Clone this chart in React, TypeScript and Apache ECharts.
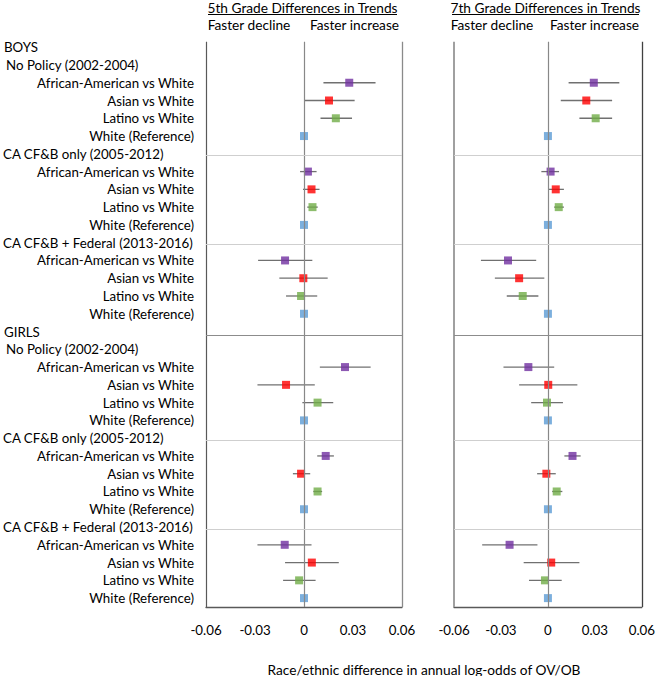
import React, { useEffect, useRef } from "react";
import * as echarts from "echarts";

const sexes = ["BOYS", "GIRLS"];
const periods = ["No Policy (2002-2004)", "CA CF&B only (2005-2012)", "CA CF&B + Federal (2013-2016)"];
const comparisons = ["African-American vs White", "Asian vs White", "Latino vs White", "White (Reference)"];
const compColors = ["#7030A0", "#FF0000", "#70AD47", "#5B9BD5"];

// order: boys (No Policy: AA, Asian, Latino, White; CA only; CA+Federal), then girls
const grade5Est = [0.0277, 0.0153, 0.0195, 0, 0.0024, 0.0046, 0.0052, 0, -0.0116, -0.0004, -0.0018, 0,
  0.0251, -0.011, 0.0083, 0, 0.0133, -0.0018, 0.0083, 0, -0.0118, 0.0048, -0.003, 0];
const grade5Lo = [0.0119, 0.0, 0.0101, null, -0.0024, -0.0006, 0.002, null, -0.0281, -0.0151, -0.011, null,
  0.0097, -0.0285, -0.001, null, 0.0081, -0.0068, 0.0057, null, -0.0285, -0.0116, -0.0128, null];
const grade5Hi = [0.0438, 0.031, 0.0294, null, 0.0077, 0.0095, 0.0084, null, 0.0051, 0.0145, 0.0081, null,
  0.0408, 0.0066, 0.0179, null, 0.0183, 0.0038, 0.0111, null, 0.0046, 0.0213, 0.0071, null];
const grade7Est = [0.0293, 0.0245, 0.0305, 0, 0.0017, 0.005, 0.0069, 0, -0.0255, -0.0184, -0.0161, 0,
  -0.0125, 0.0002, -0.0006, 0, 0.0157, -0.001, 0.0056, 0, -0.0245, 0.0021, -0.0019, 0];
const grade7Lo = [0.0132, 0.0082, 0.0201, null, -0.0042, 0.0004, 0.004, null, -0.0428, -0.0339, -0.0263, null,
  -0.0284, -0.0184, -0.0107, null, 0.0105, -0.0069, 0.0027, null, -0.042, -0.0155, -0.0121, null];
const grade7Hi = [0.0456, 0.041, 0.041, null, 0.0071, 0.0102, 0.0102, null, -0.0075, -0.0023, -0.0061, null,
  0.004, 0.0188, 0.0096, null, 0.0209, 0.005, 0.0092, null, -0.0067, 0.0201, 0.0088, null];

const xMin = -0.06;
const xMax = 0.06;
const xStep = 0.03;
const panelTitles = ["5th Grade Differences in Trends", "7th Grade Differences in Trends"];
const directionLabels = ["Faster decline", "Faster increase"];
const xAxisTitle = "Race/ethnic difference in annual log-odds of OV/OB";

type Row = { label: string; kind: "sex" | "period" | "item"; idx?: number; comp?: number; first?: boolean };
const rows: Row[] = [];
{
  let k = 0;
  sexes.forEach((s, si) => {
    rows.push({ label: s, kind: "sex", first: si === 0 });
    periods.forEach((p, pi) => {
      rows.push({ label: p, kind: "period", first: pi === 0 });
      comparisons.forEach((c, ci) => {
        rows.push({ label: c, kind: "item", idx: k++, comp: ci });
      });
    });
  });
}
const nRows = rows.length;

const FONT = "Lato";
const FS = 13.3;
const GRID_TOP = 38.3;
const GRID_H = 568.7;
const PANELS = [
  { left: 203, width: 199 },
  { left: 454, width: 191 },
];

function buildPanelSeries(pi: number, est: number[], lo: (number | null)[], hi: (number | null)[]) {
  const pts: any[] = [];
  const bars: any[] = [];
  rows.forEach((r, ri) => {
    if (r.kind !== "item") return;
    const i = r.idx as number;
    const y = ri + 0.5;
    pts.push({ value: [est[i], y], itemStyle: { color: compColors[r.comp as number] } });
    if (lo[i] != null && hi[i] != null) bars.push([lo[i], hi[i], y]);
  });
  const lineMarks: any[] = [];
  const top = 0.2;
  lineMarks.push([{ coord: [xMin, top], lineStyle: { color: pi === 0 ? "#595959" : "#a0a0a0", width: pi === 0 ? 1.2 : 2 } }, { coord: [xMin, nRows] }]);
  lineMarks.push([{ coord: [xMax, top], lineStyle: { color: pi === 0 ? "#8a8a8a" : "#404040", width: 1.3 } }, { coord: [xMax, nRows] }]);
  lineMarks.push([{ coord: [0, top], lineStyle: { color: "#888888", width: 1.2 } }, { coord: [0, nRows] }]);
  rows.forEach((r, ri) => {
    if ((r.kind === "period" || r.kind === "sex") && !r.first) {
      const dark = r.kind === "sex";
      const y = ri + 0.5 + (dark ? 0.2 : 0.1);
      lineMarks.push([
        { coord: [xMin, y], lineStyle: { color: dark ? "#8c8c8c" : "#cfcfcf", width: 1.2 } },
        { coord: [xMax, y] },
      ]);
    }
  });
  return [
    {
      type: "custom",
      xAxisIndex: pi,
      yAxisIndex: pi * 2 + 1,
      z: 2,
      silent: true,
      encode: { x: [0, 1], y: 2 },
      data: bars,
      renderItem: (params: any, api: any) => {
        const a = api.coord([api.value(0), api.value(2)]);
        const b = api.coord([api.value(1), api.value(2)]);
        return {
          type: "line",
          shape: { x1: a[0], y1: a[1], x2: b[0], y2: b[1] },
          style: { stroke: "#707070", lineWidth: 1.3 },
        };
      },
      markLine: {
        silent: true,
        symbol: ["none", "none"],
        label: { show: false },
        lineStyle: { type: "solid" },
        data: lineMarks,
      },
    },
    {
      type: "scatter",
      xAxisIndex: pi,
      yAxisIndex: pi * 2 + 1,
      z: 3,
      symbol: "rect",
      symbolSize: 8,
      data: pts,
    },
  ];
}

export default function App() {
  const ref = useRef<HTMLDivElement>(null);
  useEffect(() => {
    if (!ref.current) return;
    const chart = echarts.init(ref.current, undefined, { renderer: "svg" });
    const grids = PANELS.map((p) => ({ left: p.left, width: p.width, top: GRID_TOP, height: GRID_H, containLabel: false }));
    const xAxes = PANELS.map((_, pi) => ({
      type: "value",
      gridIndex: pi,
      min: xMin,
      max: xMax,
      interval: xStep,
      axisLine: { show: true, onZero: false, lineStyle: { color: "#595959", width: 1.3 } },
      axisTick: { show: false },
      splitLine: { show: false },
      axisLabel: {
        margin: 16,
        fontFamily: FONT,
        fontSize: FS,
        color: "#000",
        formatter: (v: number) => String(Math.round(v * 100) / 100),
      },
    }));
    const yAxes: any[] = [];
    PANELS.forEach((_, pi) => {
      yAxes.push({
        type: "category",
        gridIndex: pi,
        inverse: true,
        data: rows.map((r) => r.label),
        axisLine: { show: false },
        axisTick: { show: false },
        splitLine: { show: false },
        axisLabel: {
          show: pi === 0,
          interval: 0,
          margin: 12,
          fontFamily: FONT,
          fontSize: FS,
          color: "#000",
          formatter: (v: string, i: number) => {
            const r = rows[i];
            if (r.kind === "sex") return `{s|${v}}`;
            if (r.kind === "period") return r.first ? `{n|${v}}` : `{p|${v}}`;
            return `{i|${v}}`;
          },
          rich: {
            s: { width: 190, align: "left", fontFamily: FONT, fontSize: FS, color: "#000" },
            n: { width: 188, align: "left", fontFamily: FONT, fontSize: FS, color: "#000" },
            p: { width: 191, align: "left", fontFamily: FONT, fontSize: FS, color: "#000" },
            i: { align: "right", fontFamily: FONT, fontSize: FS, color: "#000" },
          },
        },
      });
      yAxes.push({
        type: "value",
        gridIndex: pi,
        inverse: true,
        min: 0,
        max: nRows,
        show: false,
      });
    });
    const series = [
      ...buildPanelSeries(0, grade5Est, grade5Lo, grade5Hi),
      ...buildPanelSeries(1, grade7Est, grade7Lo, grade7Hi),
    ];
    const graphics: any[] = [];
    const titleCenters = [302.5, 545.5];
    const underline = [[208, 397], [452, 639]];
    const dirCenters = [[249, 354.5], [492, 594.5]];
    panelTitles.forEach((t, pi) => {
      graphics.push({
        type: "text",
        x: titleCenters[pi],
        y: 7,
        style: { text: t, font: `13.7px ${FONT}`, fill: "#000", align: "center", verticalAlign: "middle" },
      });
      graphics.push({
        type: "line",
        shape: { x1: underline[pi][0], y1: 14.5, x2: underline[pi][1], y2: 14.5 },
        style: { stroke: "#000", lineWidth: 1 },
      });
      directionLabels.forEach((d, di) => {
        graphics.push({
          type: "text",
          x: dirCenters[pi][di],
          y: 24,
          style: { text: d, font: `13.7px ${FONT}`, fill: "#000", align: "center", verticalAlign: "middle" },
        });
      });
    });
    graphics.push({
      type: "text",
      x: 424,
      y: 669,
      style: { text: xAxisTitle, font: `13.7px ${FONT}`, fill: "#000", align: "center", verticalAlign: "middle" },
    });
    chart.setOption({
      animation: false,
      backgroundColor: "#ffffff",
      textStyle: { fontFamily: FONT },
      grid: grids,
      xAxis: xAxes,
      yAxis: yAxes,
      series,
      graphic: graphics,
    });
    return () => chart.dispose();
  }, []);
  return <div ref={ref} style={{ position: "absolute", left: 0, top: 0, width: 658, height: 676 }} />;
}
